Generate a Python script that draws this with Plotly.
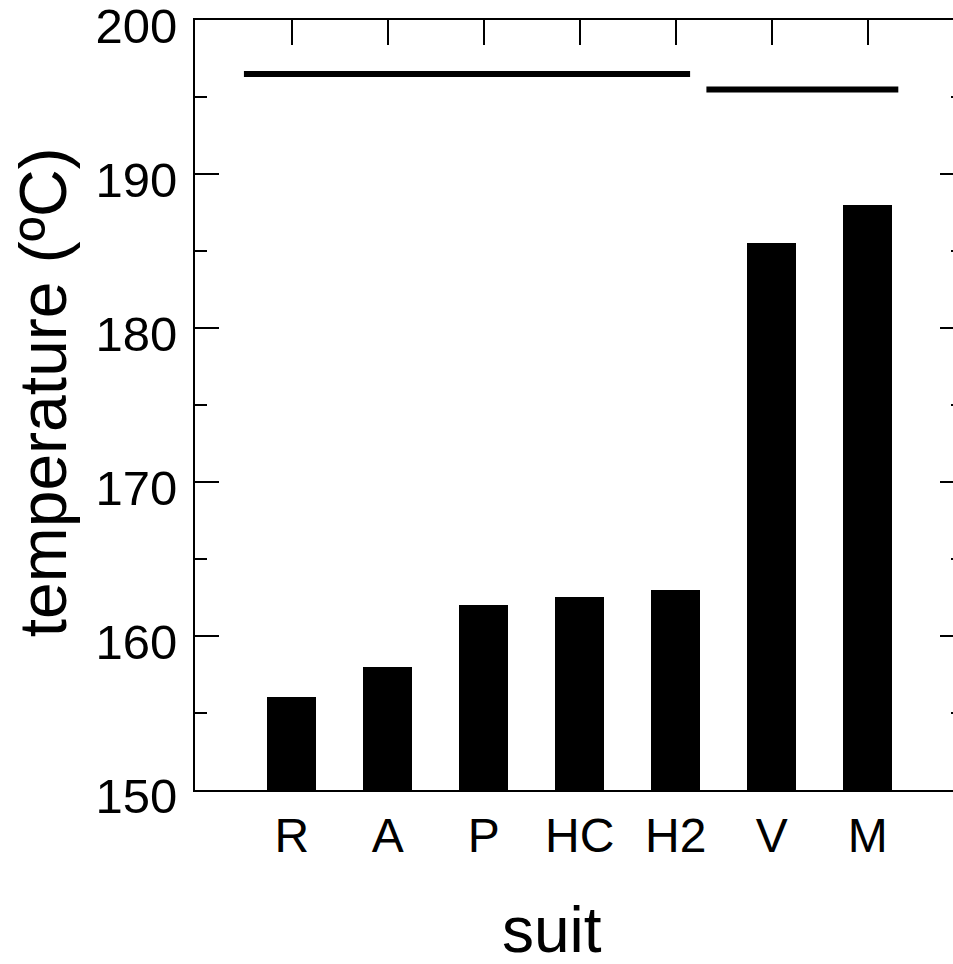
import plotly.graph_objects as go

suits = ["R", "A", "P", "HC", "H2", "V", "M"]
temperature = [156, 158, 162, 162.5, 163, 185.5, 188]

# significance group lines: (x start, x end, y level)
group_x0 = [-0.5, 4.32]
group_x1 = [4.15, 6.32]
group_y = [196.5, 195.5]

y_ticks = [150, 160, 170, 180, 190, 200]

FONT = "Liberation Sans, Arial, sans-serif"
positions = list(range(len(suits)))

fig = go.Figure()
fig.add_trace(go.Bar(x=positions, y=temperature, width=0.51,
                     marker=dict(color="black", line=dict(width=0)),
                     showlegend=False, hoverinfo="skip"))
for x0, x1, yv in zip(group_x0, group_x1, group_y):
    fig.add_trace(go.Scatter(x=[x0, x1], y=[yv, yv], mode="lines",
                             line=dict(color="black", width=6),
                             showlegend=False, hoverinfo="skip"))
# invisible traces to activate secondary axes
fig.add_trace(go.Scatter(x=[positions[0]], y=[y_ticks[0]], xaxis="x2", yaxis="y2",
                         mode="markers", marker=dict(opacity=0), showlegend=False,
                         hoverinfo="skip"))

xr = [-1.01, 6.89]
yr = [y_ticks[0] - 0.01, y_ticks[-1] + 0.01]

fig.update_layout(
    width=953, height=964,
    margin=dict(l=195, r=0, t=20, b=174),
    paper_bgcolor="white", plot_bgcolor="white",
    font=dict(family=FONT, color="black"),
    bargap=0,
    xaxis=dict(range=xr, showgrid=False, zeroline=False, showline=True,
               linecolor="black", linewidth=2, ticks="", tickmode="array",
               tickvals=positions, ticktext=suits, tickfont=dict(size=48),
               ticklabelstandoff=2, automargin=False),
    xaxis2=dict(range=xr, overlaying="x", side="top", showgrid=False,
                zeroline=False, showline=True, linecolor="black", linewidth=2,
                ticks="inside", ticklen=25, tickwidth=2, tickcolor="black",
                tickmode="array", tickvals=positions, showticklabels=False,
                automargin=False),
    yaxis=dict(range=yr, showgrid=False, zeroline=False, showline=True,
               linecolor="black", linewidth=2, ticks="inside", ticklen=24,
               tickwidth=2, tickcolor="black", tickmode="array", tickvals=y_ticks,
               tickfont=dict(size=49), ticklabelstandoff=6, ticklabelshift=6,
               ticklabeloverflow="allow", automargin=False,
               minor=dict(dtick=5, ticks="inside", ticklen=12, tickwidth=2,
                          tickcolor="black", showgrid=False)),
    yaxis2=dict(range=yr, overlaying="y", side="right", showgrid=False,
                zeroline=False, showline=False, ticks="inside", ticklen=13,
                tickwidth=2, tickcolor="black", tickmode="array", tickvals=y_ticks,
                showticklabels=False, automargin=False,
                minor=dict(dtick=5, ticks="inside", ticklen=2, tickwidth=2,
                           tickcolor="black", showgrid=False)),
    annotations=[
        dict(text="temperature (ºC)", xref="paper", yref="paper", x=-0.2, y=0.517,
             xanchor="center", yanchor="middle", textangle=-90, showarrow=False,
             font=dict(size=66, family=FONT, color="black")),
        dict(text="suit", xref="paper", yref="paper", x=0.471, y=-0.182,
             xanchor="center", yanchor="middle", showarrow=False,
             font=dict(size=64, family=FONT, color="black")),
    ],
)

fig.write_html("out.html")
